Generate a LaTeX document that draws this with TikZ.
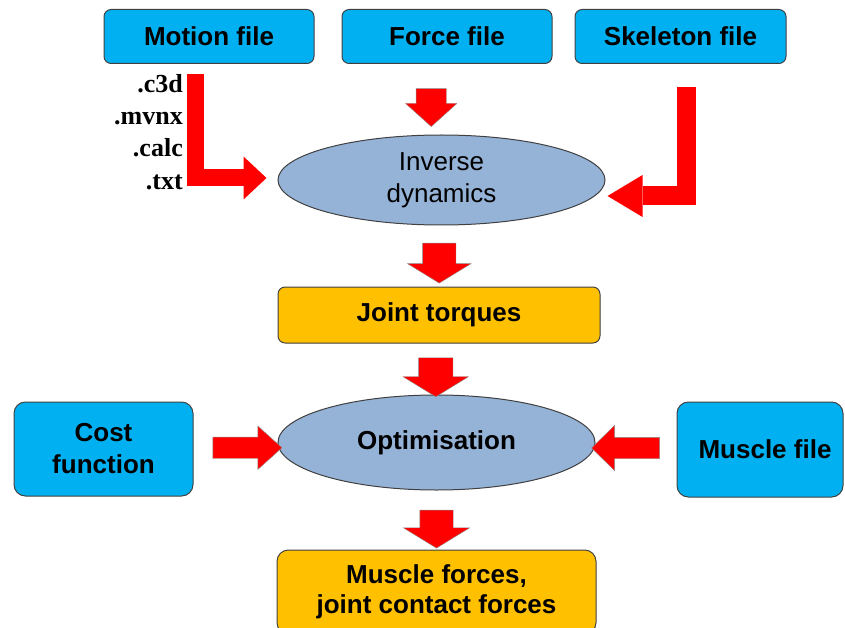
\documentclass[tikz,border=0pt]{standalone}
\usepackage{fontspec}
\setmainfont{Liberation Sans}
\newfontfamily\extfont{Liberation Serif}
\usepackage{tikz}
\usetikzlibrary{shapes.geometric}
\usetikzlibrary{shapes.arrows}
\usetikzlibrary{arrows.meta}
\usetikzlibrary{calc}
\definecolor{fileblue}{RGB}{0, 176, 240}
\definecolor{resultorange}{RGB}{255, 192, 0}
\definecolor{processblue}{RGB}{149, 179, 215}
\definecolor{edgegrey}{RGB}{64, 64, 64}

\begin{document}
\begin{tikzpicture}[x=1pt, y=-1pt,
            filebox/.style = {
                draw=edgegrey,
                line width=1pt,
                fill=fileblue,
                rounded corners=2.5mm,
                inner sep=0pt,
                align=center,
                font=\fontsize{26}{32}\selectfont\bfseries,
                },
            resultbox/.style = {
                filebox,
                fill=resultorange,
                },
            process/.style = {
                ellipse,
                draw=edgegrey,
                line width=1pt,
                fill=processblue,
                inner sep=0pt,
                align=center,
                font=\fontsize{26}{32}\selectfont,
                },
            flowarrow/.style n args = {4}{
                single arrow,
                draw=edgegrey!60,
                thin,
                fill=red,
                inner xsep=0pt,
                single arrow head indent=0pt,
                minimum height=#1,
                inner ysep=#2,
                single arrow head extend=#3,
                single arrow tip angle=#4,
                },
            bendarrow/.style = {
                draw=red,
                line join=miter,
                }]
            \useasboundingbox (0,0) rectangle (845,628);
            % input files
            \node[filebox, minimum width=210, minimum height=54] (motion) at (209,36.5) {Motion file};
            \node[filebox, minimum width=210, minimum height=54] (force) at (447,36.5) {Force file};
            \node[filebox, minimum width=211, minimum height=54] (skeleton) at (680.5,36.5) {Skeleton file};
            \node[anchor=east, align=right, inner sep=0pt,
                  font=\extfont\fontsize{26}{32.3}\selectfont\bfseries] (formats) at (183,132) {.c3d\\.mvnx\\.calc\\.txt};
            % processing chain
            \node[process, minimum width=327, minimum height=90] (invdyn) at (441.5,180) {Inverse\\dynamics};
            \node[resultbox, minimum width=322, minimum height=56] (torques) at (439,315) {Joint torques};
            \node[process, minimum width=317, minimum height=95, font=\fontsize{26}{32}\selectfont\bfseries] (optim) at (436.5,442.5) {Optimisation};
            \node[filebox, rounded corners=4mm, minimum width=179, minimum height=94] (cost) at (103.5,449) {Cost\\function};
            \node[filebox, rounded corners=4mm, minimum width=166, minimum height=95] (muscle) at (760,449.5) {\hspace*{10pt}Muscle file};
            \node[resultbox, rounded corners=4mm, minimum width=319, minimum height=84,
                  font=\fontsize{26}{30}\selectfont\bfseries] (result) at (436.5,592) {Muscle forces,\\joint contact forces};
            % arrows
            \draw[bendarrow, line width=17pt, -{Triangle[length=23pt, width=43pt, line width=0pt 0 0]}]
                ([shift={(-14,10)}]motion.south) |- ([shift={(-11,-2)}]invdyn.west);
            \draw[bendarrow, line width=19pt, -{Triangle[length=35pt, width=42pt, line width=0pt 0 0]}]
                ([shift={(6,23.5)}]skeleton.south) |- ([shift={(2,16)}]invdyn.east);
            \node[flowarrow={38}{15}{10.5}{96}, rotate=-90] (a1) at ($(force.south)!0.5!(invdyn.north)+(-13,1.5)$) {};
            \node[flowarrow={40}{16.5}{15}{117}, rotate=-90] (a2) at ($(invdyn.south)!0.5!(torques.north)+(-1,2)$) {};
            \node[flowarrow={39}{17}{15.5}{117}, rotate=-90] (a3) at ($(torques.south)!0.5!(optim.north)+(-2,3)$) {};
            \node[flowarrow={38}{16.5}{16.5}{117}, rotate=-90] (a4) at ($(optim.south)!0.5!(result.north)+(0,4)$) {};
            \node[flowarrow={69}{10.5}{11}{84}] (a5) at ($(cost.east)!0.5!(optim.west)+(6,2)$) {};
            \node[flowarrow={68}{10.5}{12}{89}, rotate=180] (a6) at ($(muscle.west)!0.5!(optim.east)+(-5,2)$) {};
        \end{tikzpicture}
\end{document}
